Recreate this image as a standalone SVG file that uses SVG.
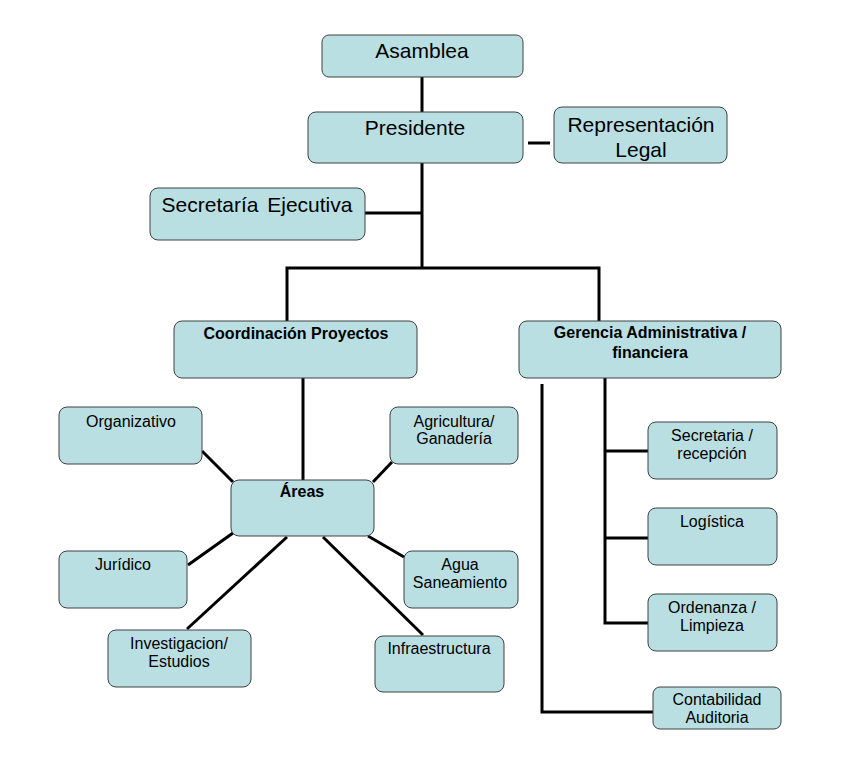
<svg xmlns="http://www.w3.org/2000/svg" width="846" height="758" viewBox="0 0 846 758">
<style>
.b{fill:#B9DFE2;stroke:#404040;stroke-width:1}
.t{font-family:"Liberation Sans",Arial,sans-serif;font-size:16px;fill:#000;text-anchor:middle}
.l{font-size:21px}
.bd{font-weight:bold}
.c{stroke:#000;stroke-width:3;fill:none}
</style>
<rect width="846" height="758" fill="#fff"/>
<g id="connectors">
<path class="c" d="M422 77V112"/>
<path class="c" d="M528 143H550"/>
<path class="c" d="M422 163V268"/>
<path class="c" d="M365 213H422"/>
<path class="c" d="M287 322V268H599V322"/>
<path class="c" d="M303 378V480"/>
<path class="c" d="M202 451L233 482"/>
<path class="c" d="M392 462L373 482"/>
<path class="c" d="M233 533L188 565"/>
<path class="c" d="M368 536L404 557"/>
<path class="c" d="M287 537L187 629"/>
<path class="c" d="M323 537L423 635"/>
<path class="c" d="M542 384V712H653"/>
<path class="c" d="M605 378V623H648M605 451H648M605 538H648"/>
</g>
<g id="asamblea"><rect class="b" x="322" y="35" width="201" height="42" rx="7"/><text class="t l" x="422" y="58">Asamblea</text></g>
<g id="presidente"><rect class="b" x="308" y="112" width="215" height="51" rx="8"/><text class="t l" x="415" y="135">Presidente</text></g>
<g id="representacion"><rect class="b" x="554" y="107" width="173" height="56" rx="8"/><text class="t l" x="641" y="132">Representación</text><text class="t l" x="641" y="157">Legal</text></g>
<g id="secretaria-ejecutiva"><rect class="b" x="150" y="188" width="215" height="52" rx="8"/><text class="t l" x="257" y="212" word-spacing="3">Secretaría Ejecutiva</text></g>
<g id="coordinacion"><rect class="b" x="174" y="321" width="243" height="57" rx="8"/><text class="t bd" x="296" y="339">Coordinación Proyectos</text></g>
<g id="gerencia"><rect class="b" x="519" y="321" width="262" height="57" rx="8"/><text class="t bd" x="650" y="338">Gerencia Administrativa  /</text><text class="t bd" x="650" y="358">financiera</text></g>
<g id="areas"><rect class="b" x="231" y="480" width="143" height="56" rx="8"/><text class="t bd" x="302" y="497">Áreas</text></g>
<g id="organizativo"><rect class="b" x="59" y="407" width="143" height="57" rx="8"/><text class="t" x="131" y="427">Organizativo</text></g>
<g id="agricultura"><rect class="b" x="390" y="407" width="128" height="57" rx="8"/><text class="t" x="454" y="427">Agricultura/</text><text class="t" x="454" y="444">Ganadería</text></g>
<g id="juridico"><rect class="b" x="59" y="551" width="128" height="57" rx="8"/><text class="t" x="123" y="570">Jurídico</text></g>
<g id="agua"><rect class="b" x="404" y="551" width="114" height="57" rx="8"/><text class="t" x="460" y="570">Agua</text><text class="t" x="460" y="588">Saneamiento</text></g>
<g id="investigacion"><rect class="b" x="108" y="630" width="143" height="57" rx="8"/><text class="t" x="179" y="649">Investigacion/</text><text class="t" x="179" y="667">Estudios</text></g>
<g id="infraestructura"><rect class="b" x="375" y="636" width="129" height="56" rx="8"/><text class="t" x="439" y="654">Infraestructura</text></g>
<g id="secretaria-recepcion"><rect class="b" x="648" y="422" width="129" height="57" rx="8"/><text class="t" x="712" y="441">Secretaria /</text><text class="t" x="712" y="459">recepción</text></g>
<g id="logistica"><rect class="b" x="648" y="508" width="129" height="57" rx="8"/><text class="t" x="712" y="527">Logística</text></g>
<g id="ordenanza"><rect class="b" x="648" y="594" width="129" height="57" rx="8"/><text class="t" x="712" y="613">Ordenanza /</text><text class="t" x="712" y="631">Limpieza</text></g>
<g id="contabilidad"><rect class="b" x="653" y="687" width="128" height="42" rx="7"/><text class="t" x="717" y="705">Contabilidad</text><text class="t" x="717" y="723">Auditoria</text></g>
</svg>
